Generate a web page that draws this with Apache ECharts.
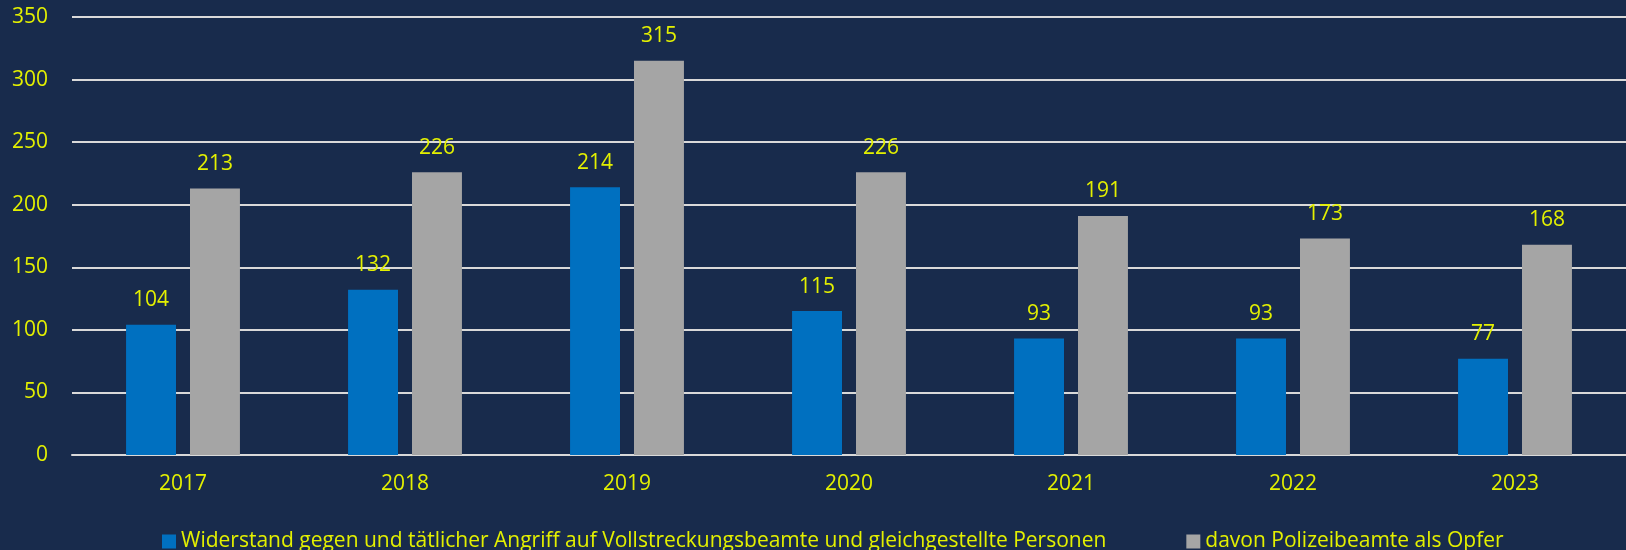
<!DOCTYPE html>
<html>
<head>
<meta charset="utf-8">
<script src="https://cdn.jsdelivr.net/npm/echarts@6/dist/echarts.min.js"></script>
<style>
  html, body { margin: 0; padding: 0; background: #182b4c; }
  #chart { width: 1626px; height: 550px; }
</style>
</head>
<body>
<div id="chart"></div>
<script>
var years = ['2017', '2018', '2019', '2020', '2021', '2022', '2023'];
var widerstand = [104, 132, 214, 115, 93, 93, 77];
var polizei = [213, 226, 315, 226, 191, 173, 168];
var seriesNames = [
  'Widerstand gegen und tätlicher Angriff auf Vollstreckungsbeamte und gleichgestellte Personen',
  'davon Polizeibeamte als Opfer'
];

var textColor = '#e3f000';
var fontFam = 'Open Sans';

var chart = echarts.init(document.getElementById('chart'));

var labelStyle = {
  show: true,
  position: 'top',
  distance: 14,
  color: textColor,
  fontSize: 21,
  fontFamily: fontFam
};

option = {
  backgroundColor: '#182b4c',
  animation: false,
  grid: {
    left: 72,
    right: 0,
    top: 17,
    bottom: 95
  },
  legend: {
    top: 526,
    left: 157,
    itemWidth: 14,
    itemHeight: 14,
    itemGap: 80,
    icon: 'rect',
    textStyle: { color: textColor, fontSize: 21, fontFamily: fontFam },
    data: seriesNames
  },
  xAxis: {
    type: 'category',
    data: years,
    axisLine: { lineStyle: { color: '#d9d9d9', width: 2 } },
    axisTick: { show: false },
    axisLabel: { color: textColor, fontSize: 21, fontFamily: fontFam, margin: 19 }
  },
  yAxis: {
    type: 'value',
    min: 0,
    max: 350,
    interval: 50,
    axisLine: { show: false },
    axisTick: { show: false },
    splitLine: { lineStyle: { color: '#d9d9d9', width: 2 } },
    axisLabel: { color: textColor, fontSize: 21, fontFamily: fontFam, margin: 24 }
  },
  series: [
    {
      name: seriesNames[0],
      type: 'bar',
      data: widerstand,
      barWidth: '22.5%',
      barGap: '28%',
      itemStyle: { color: '#0070c0' },
      label: labelStyle
    },
    {
      name: seriesNames[1],
      type: 'bar',
      data: polizei,
      barWidth: '22.5%',
      itemStyle: { color: '#a5a5a5' },
      label: labelStyle
    }
  ]
};

chart.setOption(option);
</script>
</body>
</html>
